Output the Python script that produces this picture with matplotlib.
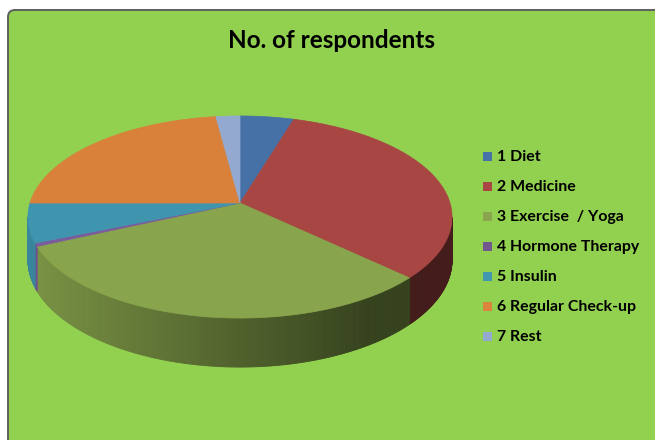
import numpy as np
import matplotlib.pyplot as plt
from matplotlib.patches import Polygon, Rectangle, FancyBboxPatch
from matplotlib.collections import PolyCollection
from matplotlib.colors import to_rgb

# respondents per treatment
labels = ['1 Diet', '2 Medicine', '3 Exercise  / Yoga', '4 Hormone Therapy',
          '5 Insulin', '6 Regular Check-up', '7 Rest']
counts = [9, 62, 60, 1, 12, 44, 4]
colors = ['#4571A6', '#A84644', '#88A44C', '#7A5C9E', '#3F95AE', '#D9813B', '#93A9CF']
legend_colors = ['#4572A7', '#AA4643', '#89A54E', '#71588F', '#4198AF', '#DB843D', '#93A9CF']

# pie geometry (pixels), simple perspective of a tilted disc
cx, cy = 240, 203
A, B, k = 210.0, 99.1, 0.1387
H = 42.2


def proj(t, drop=0.0):
    x, y = np.cos(t), np.sin(t)
    d = 1 + k * y
    return cx + A * x / d, cy - B * y / d + drop * H / d


fig = plt.figure(figsize=(6.55, 4.40), dpi=100)
ax = fig.add_axes([0, 0, 1, 1])
ax.set_xlim(0, 655)
ax.set_ylim(440, 0)
ax.axis('off')

bg = FancyBboxPatch((8, 10), 660, 450, boxstyle='round,pad=0,rounding_size=7',
                    facecolor='#92D050', edgecolor='#5f5f5f', linewidth=1.4)
ax.add_patch(bg)

total = float(sum(counts))
starts = []
a = 90.0
for c in counts:
    span = 360.0 * c / total
    starts.append((a - span, a))
    a -= span

# outer wall, only the front part is visible
lo = np.radians(180 + np.degrees(np.arcsin(k)))
hi = np.radians(360 - np.degrees(np.arcsin(k)))
polys, fcs = [], []
for (a0, a1), col in zip(starts, colors):
    t0, t1 = np.radians(a0) % (2 * np.pi), np.radians(a1) % (2 * np.pi)
    if t1 <= t0:
        t1 += 2 * np.pi
    ts = np.arange(t0, t1, np.radians(0.5))
    ts = np.append(ts, t1)
    base = np.array(to_rgb(col))
    for ta, tb in zip(ts[:-1], ts[1:]):
        tm = 0.5 * (ta + tb) % (2 * np.pi)
        if tm < lo or tm > hi:
            continue
        xa, ya = proj(ta)
        xb, yb = proj(tb)
        xa2, ya2 = proj(ta, 1)
        xb2, yb2 = proj(tb, 1)
        xm = 0.5 * (xa + xb)
        f = np.clip(0.9 - 0.5 * (xm - 30) / 340, 0.4, 0.9)
        polys.append([(xa, ya), (xb, yb), (xb2, yb2), (xa2, ya2)])
        fcs.append(base * f)
ax.add_collection(PolyCollection(polys, facecolors=fcs, edgecolors=fcs, linewidths=0.6))

# top faces
for (a0, a1), col in zip(starts, colors):
    ts = np.radians(np.linspace(a0, a1, 200))
    xs, ys = proj(ts)
    pts = [(cx, cy)] + list(zip(xs, ys))
    ax.add_patch(Polygon(pts, closed=True, facecolor=col, edgecolor=col, linewidth=0.5))

ax.text(331, 40, 'No. of respondents', ha='center', va='center',
        fontsize=17.5, fontweight='bold', family='Lato')

for i, (lab, col) in enumerate(zip(labels, legend_colors)):
    yy = 157 + i * 30
    ax.add_patch(Rectangle((483, yy - 4.5), 9, 9, facecolor=col, edgecolor='none'))
    ax.text(497, yy, lab, ha='left', va='center', fontsize=11.4,
            fontweight='bold', family='Lato')

fig.savefig('out.png', dpi=100, facecolor='white')
